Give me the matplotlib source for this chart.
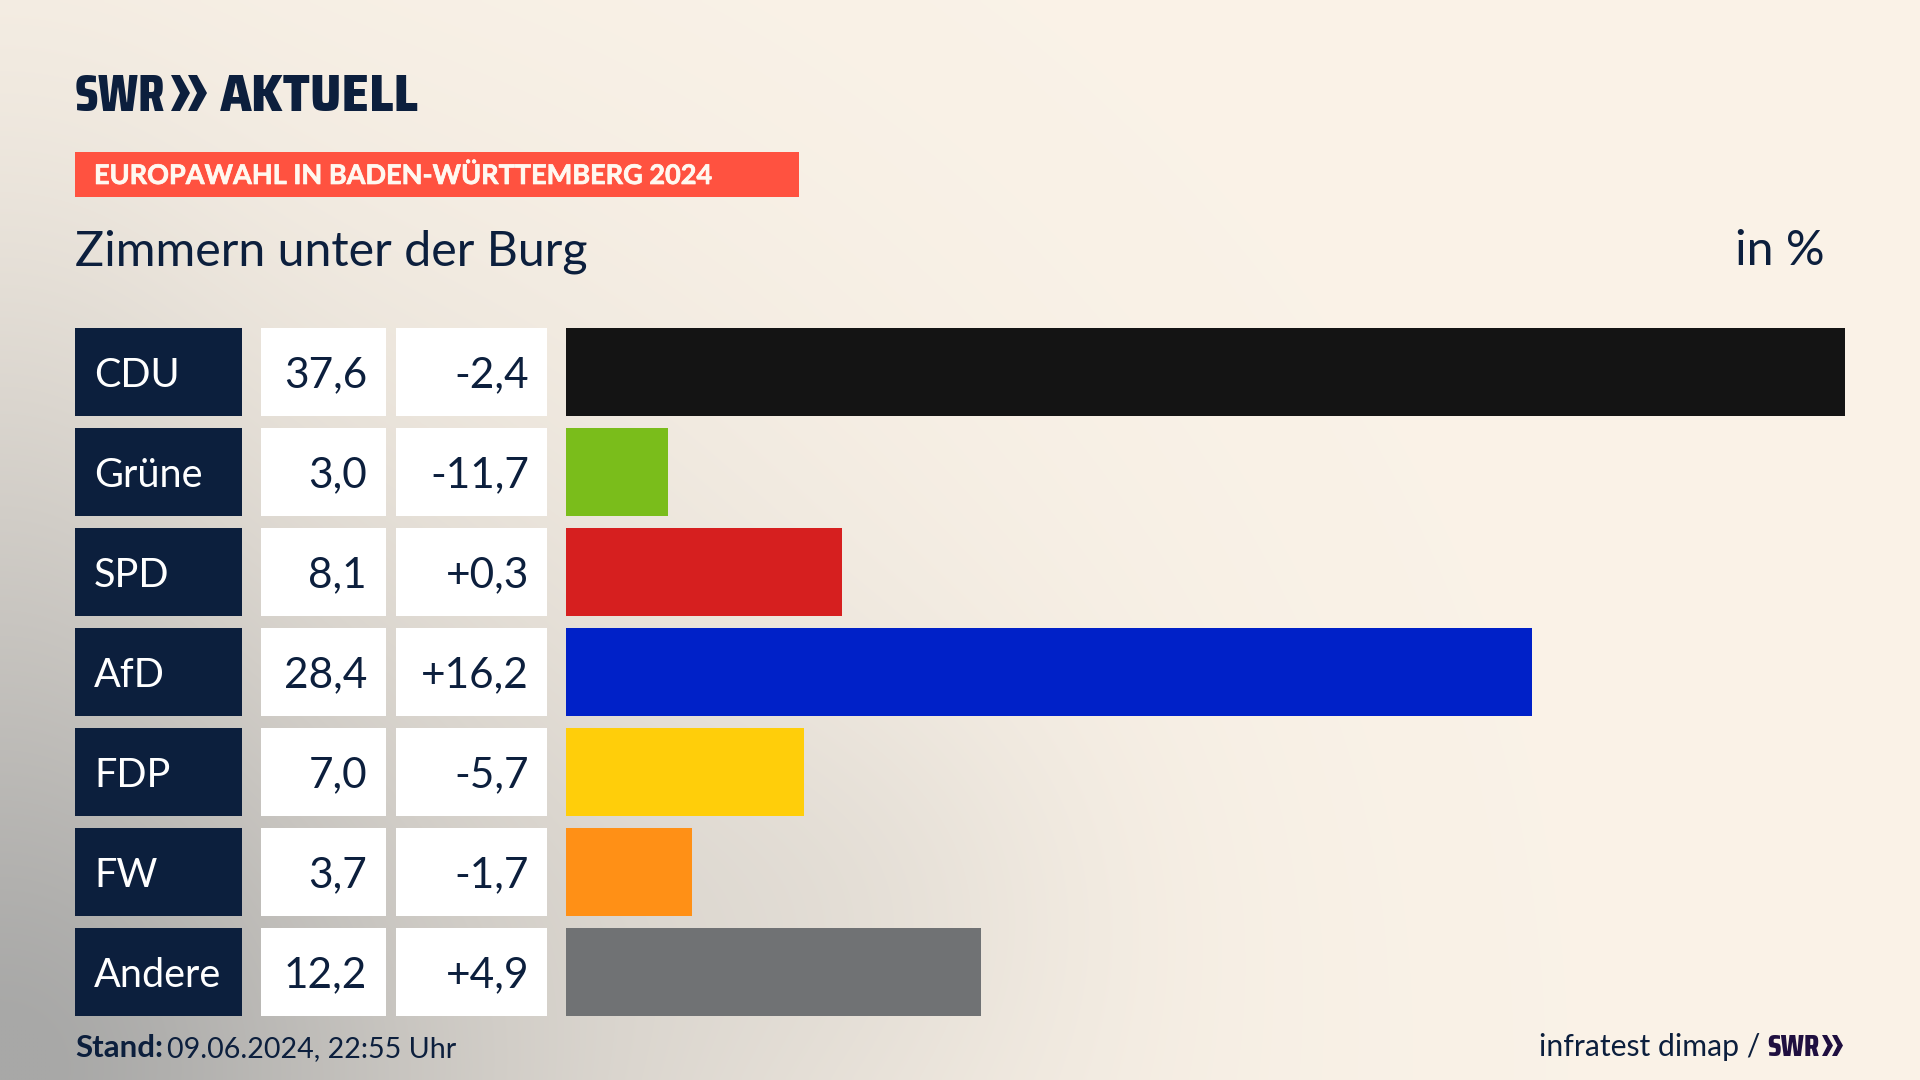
import numpy as np
import matplotlib
matplotlib.use("Agg")
import matplotlib.pyplot as plt
import matplotlib.patheffects as pe
from matplotlib.patches import Rectangle, Polygon

parties = ["CDU", "Grüne", "SPD", "AfD", "FDP", "FW", "Andere"]
shares = [37.6, 3.0, 8.1, 28.4, 7.0, 3.7, 12.2]
changes = [-2.4, -11.7, 0.3, 16.2, -5.7, -1.7, 4.9]
bar_colors = ["#141414", "#7ABD1B", "#D61F1F", "#0021C8", "#FFCE0A", "#FF9016", "#707274"]

NAVY = "#0C1F3D"
FONT = "Lato"
NARROW = "Saira Condensed"
SEMI = "Saira SemiCondensed"
W, H = 1920, 1080
plt.rcParams['font.family'] = [FONT, 'DejaVu Sans']

fig = plt.figure(figsize=(19.2, 10.8), dpi=100)
bg = fig.add_axes([0, 0, 1, 1])
bg.set_xlim(0, W); bg.set_ylim(H, 0); bg.axis("off")

# soft background wash
yy, xx = np.mgrid[0:H:270j, 0:W:480j]
d1 = np.exp(-((xx / 620) ** 2 + ((H - yy) / 560) ** 2) ** 0.8)
d2 = 0.10 * np.exp(-(((xx - 850) / 250) ** 2 + ((yy - 900) / 220) ** 2))
d3 = 0.14 * np.exp(-((xx / 220) ** 2 + ((yy - 500) / 400) ** 2))
m = np.clip(d1 + d2 + d3, 0, 1)[..., None]
img = np.array([251, 243, 232]) / 255 * (1 - m) + np.array([168, 168, 167]) / 255 * m
bg.imshow(img, extent=(0, W, H, 0), aspect="auto", interpolation="bilinear", zorder=0)

def fmt(v, signed=False):
    s = f"{v:+.1f}" if signed else f"{v:.1f}"
    return s.replace(".", ",")

ROW_TOP, ROW_PITCH, ROW_H = 328, 100, 88
for i, (p, s, c) in enumerate(zip(parties, shares, changes)):
    top = ROW_TOP + i * ROW_PITCH
    bg.add_patch(Rectangle((75, top), 167, ROW_H, fc=NAVY, lw=0, zorder=2))
    bg.add_patch(Rectangle((261, top), 125, ROW_H, fc="white", lw=0, zorder=2))
    bg.add_patch(Rectangle((396, top), 151, ROW_H, fc="white", lw=0, zorder=2))
    base = top + 59
    bg.text(94, base, p, color="white", fontsize=28.5, va="baseline", ha="left", zorder=3)
    bg.text(367, base, fmt(s), color=NAVY, fontsize=30.5, va="baseline", ha="right", zorder=3)
    bg.text(529, base, fmt(c, True), color=NAVY, fontsize=30.5, va="baseline", ha="right", zorder=3)

# bars on their own data axes
ax = fig.add_axes([566 / W, 1 - (328 + 688) / H, 1279 / W, 688 / H])
ax.patch.set_alpha(0)
ax.set_xlim(0, 37.6)
ax.set_ylim(6 + 0.88, 0)
ax.barh(np.arange(len(parties)) + 0.44, shares, height=0.88, color=bar_colors, lw=0)
ax.axis("off")

# header
bg.text(75, 111, "SWR", color=NAVY, fontsize=38, family=NARROW, fontweight=800, va="baseline", zorder=3)
for x0 in (171, 188):
    bg.add_patch(Polygon([(x0, 75), (x0 + 9, 75), (x0 + 19, 93), (x0 + 9, 111), (x0, 111), (x0 + 9, 93)],
                         fc=NAVY, lw=0, zorder=3))
bg.text(220, 111, "AKTUELL", color=NAVY, fontsize=38, family=SEMI, fontweight=800, va="baseline", zorder=3)

bg.add_patch(Rectangle((75, 152), 724, 45, fc="#FF5240", lw=0, zorder=2))
bg.text(94, 184, "EUROPAWAHL IN BADEN-WÜRTTEMBERG 2024", color="#FFF8F0", fontsize=19.5,
        fontweight="bold", va="baseline", zorder=3,
        path_effects=[pe.withStroke(linewidth=0.5, foreground="#FFF8F0")])
bg.text(75, 265, "Zimmern unter der Burg", color=NAVY, fontsize=34.8, va="baseline", zorder=3)
bg.text(1825, 265, "in %", color=NAVY, fontsize=34.8, va="baseline", ha="right", zorder=3)

# footer
bg.text(75, 1057, "Stand:", color=NAVY, fontsize=22.5, fontweight="bold", va="baseline", zorder=3)
bg.text(167, 1057, "09.06.2024, 22:55 Uhr", color=NAVY, fontsize=20.6, va="baseline", zorder=3)
bg.text(1760, 1056, "infratest dimap /", color=NAVY, fontsize=21.7, va="baseline", ha="right", zorder=3)
bg.text(1767, 1056, "SWR", color="#1F0F40", fontsize=22, family=NARROW, fontweight=800, va="baseline", zorder=3)
for x0 in (1822, 1832):
    bg.add_patch(Polygon([(x0, 1035), (x0 + 5, 1035), (x0 + 11, 1045.5), (x0 + 5, 1056), (x0, 1056), (x0 + 5.5, 1045.5)],
                         fc="#1F0F40", lw=0, zorder=3))

fig.savefig("out.png", dpi=100)
